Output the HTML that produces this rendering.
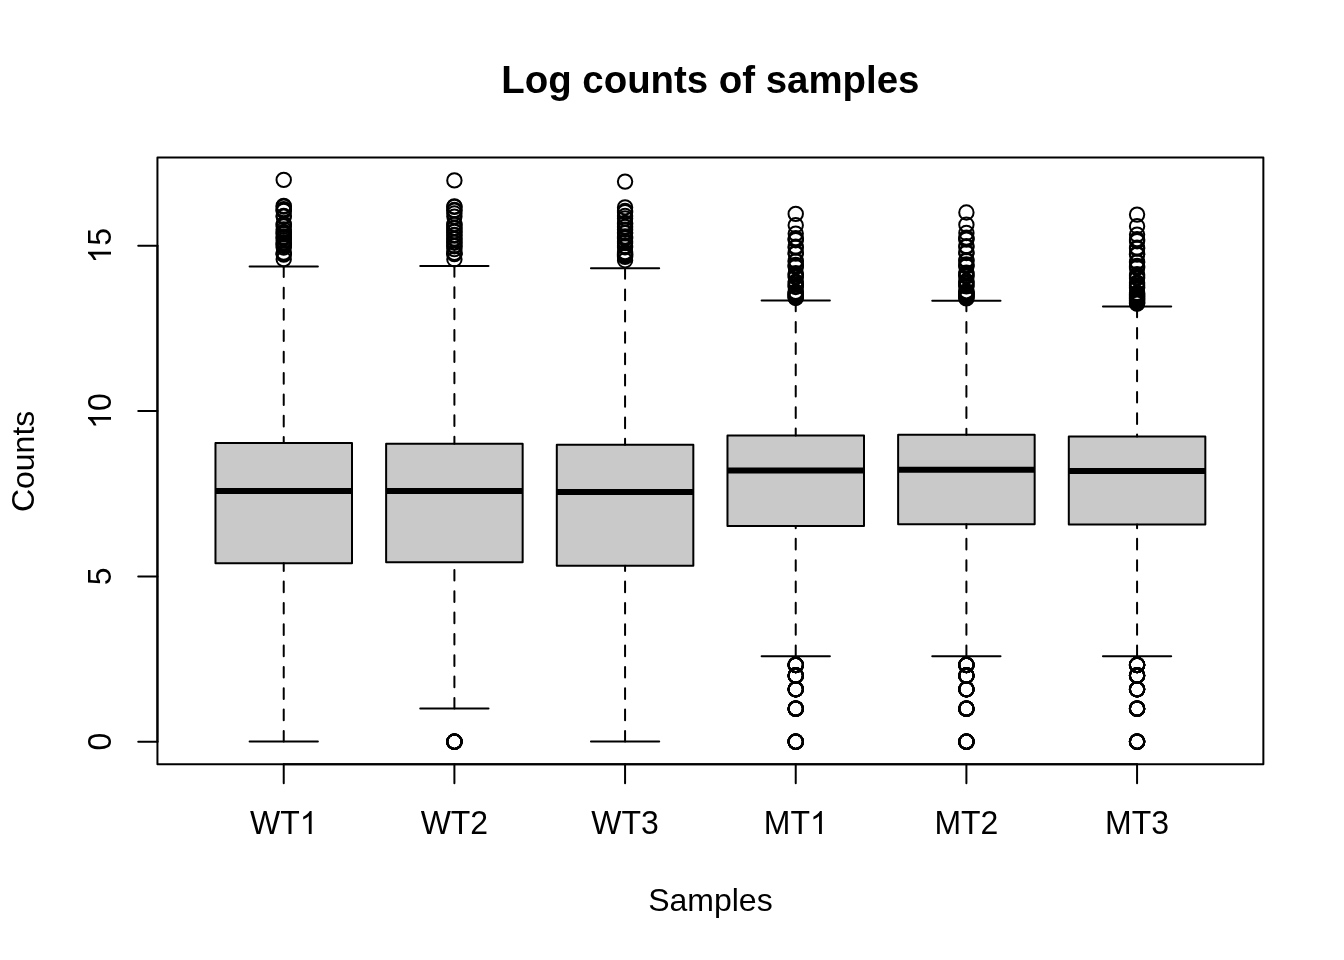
<!DOCTYPE html>
<html><head><meta charset="utf-8"><title>Log counts of samples</title>
<style>html,body{margin:0;padding:0;background:#fff;width:1344px;height:960px;overflow:hidden;}svg{display:block;will-change:transform;}text{font-family:"Liberation Sans",sans-serif;fill:#000;font-kerning:none;}</style>
</head><body>
<svg width="1344" height="960" viewBox="0 0 1344 960">
<rect x="0" y="0" width="1344" height="960" fill="#ffffff"/>
<g fill="none" stroke="#000" stroke-width="2" stroke-linecap="round" stroke-linejoin="round">
<rect x="215.47" y="443.00" width="136.53" height="120.35" fill="#c9c9c9" stroke="none"/>
<line x1="215.47" y1="490.90" x2="352.00" y2="490.90" stroke-width="6" stroke-linecap="butt"/>
<line x1="283.73" y1="741.60" x2="283.73" y2="563.35" stroke-dasharray="10.667 10.667"/>
<line x1="283.73" y1="266.40" x2="283.73" y2="443.00" stroke-dasharray="10.667 10.667"/>
<line x1="249.60" y1="741.60" x2="317.87" y2="741.60"/>
<line x1="249.60" y1="266.40" x2="317.87" y2="266.40"/>
<rect x="215.47" y="443.00" width="136.53" height="120.35"/>
<circle cx="283.73" cy="179.90" r="7.2"/>
<circle cx="283.73" cy="205.90" r="7.2"/>
<circle cx="283.73" cy="206.60" r="7.2"/>
<circle cx="283.73" cy="209.10" r="7.2"/>
<circle cx="283.73" cy="210.40" r="7.2"/>
<circle cx="283.73" cy="210.90" r="7.2"/>
<circle cx="283.73" cy="216.00" r="7.2"/>
<circle cx="283.73" cy="216.60" r="7.2"/>
<circle cx="283.73" cy="224.00" r="7.2"/>
<circle cx="283.73" cy="224.80" r="7.2"/>
<circle cx="283.73" cy="226.50" r="7.2"/>
<circle cx="283.73" cy="229.50" r="7.2"/>
<circle cx="283.73" cy="231.90" r="7.2"/>
<circle cx="283.73" cy="233.00" r="7.2"/>
<circle cx="283.73" cy="234.30" r="7.2"/>
<circle cx="283.73" cy="236.50" r="7.2"/>
<circle cx="283.73" cy="237.50" r="7.2"/>
<circle cx="283.73" cy="238.50" r="7.2"/>
<circle cx="283.73" cy="240.50" r="7.2"/>
<circle cx="283.73" cy="242.50" r="7.2"/>
<circle cx="283.73" cy="243.50" r="7.2"/>
<circle cx="283.73" cy="244.50" r="7.2"/>
<circle cx="283.73" cy="246.00" r="7.2"/>
<circle cx="283.73" cy="247.50" r="7.2"/>
<circle cx="283.73" cy="252.60" r="7.2"/>
<circle cx="283.73" cy="253.50" r="7.2"/>
<circle cx="283.73" cy="254.60" r="7.2"/>
<circle cx="283.73" cy="259.20" r="7.2"/>
<rect x="386.13" y="443.70" width="136.53" height="118.60" fill="#c9c9c9" stroke="none"/>
<line x1="386.13" y1="490.90" x2="522.67" y2="490.90" stroke-width="6" stroke-linecap="butt"/>
<line x1="454.40" y1="708.60" x2="454.40" y2="562.30" stroke-dasharray="10.667 10.667"/>
<line x1="454.40" y1="266.00" x2="454.40" y2="443.70" stroke-dasharray="10.667 10.667"/>
<line x1="420.27" y1="708.60" x2="488.53" y2="708.60"/>
<line x1="420.27" y1="266.00" x2="488.53" y2="266.00"/>
<rect x="386.13" y="443.70" width="136.53" height="118.60"/>
<circle cx="454.40" cy="180.40" r="7.2"/>
<circle cx="454.40" cy="206.40" r="7.2"/>
<circle cx="454.40" cy="206.90" r="7.2"/>
<circle cx="454.40" cy="210.00" r="7.2"/>
<circle cx="454.40" cy="210.60" r="7.2"/>
<circle cx="454.40" cy="213.50" r="7.2"/>
<circle cx="454.40" cy="216.60" r="7.2"/>
<circle cx="454.40" cy="224.10" r="7.2"/>
<circle cx="454.40" cy="224.70" r="7.2"/>
<circle cx="454.40" cy="227.70" r="7.2"/>
<circle cx="454.40" cy="228.30" r="7.2"/>
<circle cx="454.40" cy="231.30" r="7.2"/>
<circle cx="454.40" cy="231.90" r="7.2"/>
<circle cx="454.40" cy="234.90" r="7.2"/>
<circle cx="454.40" cy="235.50" r="7.2"/>
<circle cx="454.40" cy="238.50" r="7.2"/>
<circle cx="454.40" cy="239.10" r="7.2"/>
<circle cx="454.40" cy="242.10" r="7.2"/>
<circle cx="454.40" cy="242.70" r="7.2"/>
<circle cx="454.40" cy="245.70" r="7.2"/>
<circle cx="454.40" cy="246.30" r="7.2"/>
<circle cx="454.40" cy="249.10" r="7.2"/>
<circle cx="454.40" cy="252.90" r="7.2"/>
<circle cx="454.40" cy="253.50" r="7.2"/>
<circle cx="454.40" cy="254.10" r="7.2"/>
<circle cx="454.40" cy="259.30" r="7.2"/>
<circle cx="454.40" cy="741.69" r="7.2"/>
<circle cx="454.40" cy="741.69" r="7.2"/>
<circle cx="454.40" cy="741.69" r="7.2"/>
<circle cx="454.40" cy="741.69" r="7.2"/>
<circle cx="454.40" cy="741.69" r="7.2"/>
<circle cx="454.40" cy="741.69" r="7.2"/>
<circle cx="454.40" cy="741.69" r="7.2"/>
<circle cx="454.40" cy="741.69" r="7.2"/>
<rect x="556.80" y="444.80" width="136.53" height="121.05" fill="#c9c9c9" stroke="none"/>
<line x1="556.80" y1="492.00" x2="693.33" y2="492.00" stroke-width="6" stroke-linecap="butt"/>
<line x1="625.07" y1="741.60" x2="625.07" y2="565.85" stroke-dasharray="10.667 10.667"/>
<line x1="625.07" y1="268.20" x2="625.07" y2="444.80" stroke-dasharray="10.667 10.667"/>
<line x1="590.93" y1="741.60" x2="659.20" y2="741.60"/>
<line x1="590.93" y1="268.20" x2="659.20" y2="268.20"/>
<rect x="556.80" y="444.80" width="136.53" height="121.05"/>
<circle cx="625.07" cy="181.60" r="7.2"/>
<circle cx="625.07" cy="207.40" r="7.2"/>
<circle cx="625.07" cy="211.00" r="7.2"/>
<circle cx="625.07" cy="212.20" r="7.2"/>
<circle cx="625.07" cy="216.00" r="7.2"/>
<circle cx="625.07" cy="218.40" r="7.2"/>
<circle cx="625.07" cy="223.00" r="7.2"/>
<circle cx="625.07" cy="224.00" r="7.2"/>
<circle cx="625.07" cy="226.90" r="7.2"/>
<circle cx="625.07" cy="229.80" r="7.2"/>
<circle cx="625.07" cy="232.60" r="7.2"/>
<circle cx="625.07" cy="233.20" r="7.2"/>
<circle cx="625.07" cy="236.50" r="7.2"/>
<circle cx="625.07" cy="237.40" r="7.2"/>
<circle cx="625.07" cy="238.40" r="7.2"/>
<circle cx="625.07" cy="241.30" r="7.2"/>
<circle cx="625.07" cy="243.00" r="7.2"/>
<circle cx="625.07" cy="246.00" r="7.2"/>
<circle cx="625.07" cy="247.20" r="7.2"/>
<circle cx="625.07" cy="252.10" r="7.2"/>
<circle cx="625.07" cy="253.30" r="7.2"/>
<circle cx="625.07" cy="254.50" r="7.2"/>
<circle cx="625.07" cy="255.70" r="7.2"/>
<circle cx="625.07" cy="256.90" r="7.2"/>
<circle cx="625.07" cy="260.30" r="7.2"/>
<rect x="727.47" y="435.60" width="136.53" height="90.35" fill="#c9c9c9" stroke="none"/>
<line x1="727.47" y1="470.55" x2="864.00" y2="470.55" stroke-width="6" stroke-linecap="butt"/>
<line x1="795.73" y1="656.20" x2="795.73" y2="525.95" stroke-dasharray="10.667 10.667"/>
<line x1="795.73" y1="300.60" x2="795.73" y2="435.60" stroke-dasharray="10.667 10.667"/>
<line x1="761.60" y1="656.20" x2="829.87" y2="656.20"/>
<line x1="761.60" y1="300.60" x2="829.87" y2="300.60"/>
<rect x="727.47" y="435.60" width="136.53" height="90.35"/>
<circle cx="795.73" cy="213.90" r="7.2"/>
<circle cx="795.73" cy="225.30" r="7.2"/>
<circle cx="795.73" cy="233.60" r="7.2"/>
<circle cx="795.73" cy="238.20" r="7.2"/>
<circle cx="795.73" cy="239.30" r="7.2"/>
<circle cx="795.73" cy="240.20" r="7.2"/>
<circle cx="795.73" cy="246.70" r="7.2"/>
<circle cx="795.73" cy="247.60" r="7.2"/>
<circle cx="795.73" cy="252.80" r="7.2"/>
<circle cx="795.73" cy="253.60" r="7.2"/>
<circle cx="795.73" cy="260.70" r="7.2"/>
<circle cx="795.73" cy="261.50" r="7.2"/>
<circle cx="795.73" cy="265.00" r="7.2"/>
<circle cx="795.73" cy="266.00" r="7.2"/>
<circle cx="795.73" cy="267.00" r="7.2"/>
<circle cx="795.73" cy="273.20" r="7.2"/>
<circle cx="795.73" cy="274.50" r="7.2"/>
<circle cx="795.73" cy="276.00" r="7.2"/>
<circle cx="795.73" cy="277.30" r="7.2"/>
<circle cx="795.73" cy="281.60" r="7.2"/>
<circle cx="795.73" cy="283.00" r="7.2"/>
<circle cx="795.73" cy="284.50" r="7.2"/>
<circle cx="795.73" cy="286.00" r="7.2"/>
<circle cx="795.73" cy="287.00" r="7.2"/>
<circle cx="795.73" cy="291.80" r="7.2"/>
<circle cx="795.73" cy="292.50" r="7.2"/>
<circle cx="795.73" cy="293.20" r="7.2"/>
<circle cx="795.73" cy="293.90" r="7.2"/>
<circle cx="795.73" cy="294.60" r="7.2"/>
<circle cx="795.73" cy="295.30" r="7.2"/>
<circle cx="795.73" cy="296.00" r="7.2"/>
<circle cx="795.73" cy="296.70" r="7.2"/>
<circle cx="795.73" cy="297.40" r="7.2"/>
<circle cx="795.73" cy="298.00" r="7.2"/>
<circle cx="795.73" cy="741.69" r="7.2"/>
<circle cx="795.73" cy="741.69" r="7.2"/>
<circle cx="795.73" cy="741.69" r="7.2"/>
<circle cx="795.73" cy="741.69" r="7.2"/>
<circle cx="795.73" cy="741.69" r="7.2"/>
<circle cx="795.73" cy="741.69" r="7.2"/>
<circle cx="795.73" cy="741.69" r="7.2"/>
<circle cx="795.73" cy="741.69" r="7.2"/>
<circle cx="795.73" cy="708.63" r="7.2"/>
<circle cx="795.73" cy="708.63" r="7.2"/>
<circle cx="795.73" cy="708.63" r="7.2"/>
<circle cx="795.73" cy="708.63" r="7.2"/>
<circle cx="795.73" cy="708.63" r="7.2"/>
<circle cx="795.73" cy="708.63" r="7.2"/>
<circle cx="795.73" cy="708.63" r="7.2"/>
<circle cx="795.73" cy="708.63" r="7.2"/>
<circle cx="795.73" cy="689.29" r="7.2"/>
<circle cx="795.73" cy="689.29" r="7.2"/>
<circle cx="795.73" cy="689.29" r="7.2"/>
<circle cx="795.73" cy="689.29" r="7.2"/>
<circle cx="795.73" cy="689.29" r="7.2"/>
<circle cx="795.73" cy="689.29" r="7.2"/>
<circle cx="795.73" cy="689.29" r="7.2"/>
<circle cx="795.73" cy="689.29" r="7.2"/>
<circle cx="795.73" cy="675.57" r="7.2"/>
<circle cx="795.73" cy="675.57" r="7.2"/>
<circle cx="795.73" cy="675.57" r="7.2"/>
<circle cx="795.73" cy="675.57" r="7.2"/>
<circle cx="795.73" cy="675.57" r="7.2"/>
<circle cx="795.73" cy="675.57" r="7.2"/>
<circle cx="795.73" cy="675.57" r="7.2"/>
<circle cx="795.73" cy="675.57" r="7.2"/>
<circle cx="795.73" cy="664.93" r="7.2"/>
<circle cx="795.73" cy="664.93" r="7.2"/>
<circle cx="795.73" cy="664.93" r="7.2"/>
<circle cx="795.73" cy="664.93" r="7.2"/>
<circle cx="795.73" cy="664.93" r="7.2"/>
<circle cx="795.73" cy="664.93" r="7.2"/>
<circle cx="795.73" cy="664.93" r="7.2"/>
<circle cx="795.73" cy="664.93" r="7.2"/>
<rect x="898.13" y="434.75" width="136.53" height="89.55" fill="#c9c9c9" stroke="none"/>
<line x1="898.13" y1="469.70" x2="1034.67" y2="469.70" stroke-width="6" stroke-linecap="butt"/>
<line x1="966.40" y1="656.20" x2="966.40" y2="524.30" stroke-dasharray="10.667 10.667"/>
<line x1="966.40" y1="300.65" x2="966.40" y2="434.75" stroke-dasharray="10.667 10.667"/>
<line x1="932.27" y1="656.20" x2="1000.53" y2="656.20"/>
<line x1="932.27" y1="300.65" x2="1000.53" y2="300.65"/>
<rect x="898.13" y="434.75" width="136.53" height="89.55"/>
<circle cx="966.40" cy="212.50" r="7.2"/>
<circle cx="966.40" cy="224.70" r="7.2"/>
<circle cx="966.40" cy="233.00" r="7.2"/>
<circle cx="966.40" cy="237.60" r="7.2"/>
<circle cx="966.40" cy="238.70" r="7.2"/>
<circle cx="966.40" cy="239.60" r="7.2"/>
<circle cx="966.40" cy="246.10" r="7.2"/>
<circle cx="966.40" cy="247.00" r="7.2"/>
<circle cx="966.40" cy="252.20" r="7.2"/>
<circle cx="966.40" cy="253.00" r="7.2"/>
<circle cx="966.40" cy="260.10" r="7.2"/>
<circle cx="966.40" cy="260.90" r="7.2"/>
<circle cx="966.40" cy="264.40" r="7.2"/>
<circle cx="966.40" cy="265.40" r="7.2"/>
<circle cx="966.40" cy="266.40" r="7.2"/>
<circle cx="966.40" cy="272.60" r="7.2"/>
<circle cx="966.40" cy="273.90" r="7.2"/>
<circle cx="966.40" cy="275.40" r="7.2"/>
<circle cx="966.40" cy="276.70" r="7.2"/>
<circle cx="966.40" cy="281.00" r="7.2"/>
<circle cx="966.40" cy="282.40" r="7.2"/>
<circle cx="966.40" cy="283.90" r="7.2"/>
<circle cx="966.40" cy="285.40" r="7.2"/>
<circle cx="966.40" cy="286.40" r="7.2"/>
<circle cx="966.40" cy="291.20" r="7.2"/>
<circle cx="966.40" cy="291.90" r="7.2"/>
<circle cx="966.40" cy="292.60" r="7.2"/>
<circle cx="966.40" cy="293.30" r="7.2"/>
<circle cx="966.40" cy="294.00" r="7.2"/>
<circle cx="966.40" cy="294.70" r="7.2"/>
<circle cx="966.40" cy="295.40" r="7.2"/>
<circle cx="966.40" cy="296.10" r="7.2"/>
<circle cx="966.40" cy="296.80" r="7.2"/>
<circle cx="966.40" cy="297.40" r="7.2"/>
<circle cx="966.40" cy="298.40" r="7.2"/>
<circle cx="966.40" cy="741.69" r="7.2"/>
<circle cx="966.40" cy="741.69" r="7.2"/>
<circle cx="966.40" cy="741.69" r="7.2"/>
<circle cx="966.40" cy="741.69" r="7.2"/>
<circle cx="966.40" cy="741.69" r="7.2"/>
<circle cx="966.40" cy="741.69" r="7.2"/>
<circle cx="966.40" cy="741.69" r="7.2"/>
<circle cx="966.40" cy="741.69" r="7.2"/>
<circle cx="966.40" cy="708.63" r="7.2"/>
<circle cx="966.40" cy="708.63" r="7.2"/>
<circle cx="966.40" cy="708.63" r="7.2"/>
<circle cx="966.40" cy="708.63" r="7.2"/>
<circle cx="966.40" cy="708.63" r="7.2"/>
<circle cx="966.40" cy="708.63" r="7.2"/>
<circle cx="966.40" cy="708.63" r="7.2"/>
<circle cx="966.40" cy="708.63" r="7.2"/>
<circle cx="966.40" cy="689.29" r="7.2"/>
<circle cx="966.40" cy="689.29" r="7.2"/>
<circle cx="966.40" cy="689.29" r="7.2"/>
<circle cx="966.40" cy="689.29" r="7.2"/>
<circle cx="966.40" cy="689.29" r="7.2"/>
<circle cx="966.40" cy="689.29" r="7.2"/>
<circle cx="966.40" cy="689.29" r="7.2"/>
<circle cx="966.40" cy="689.29" r="7.2"/>
<circle cx="966.40" cy="675.57" r="7.2"/>
<circle cx="966.40" cy="675.57" r="7.2"/>
<circle cx="966.40" cy="675.57" r="7.2"/>
<circle cx="966.40" cy="675.57" r="7.2"/>
<circle cx="966.40" cy="675.57" r="7.2"/>
<circle cx="966.40" cy="675.57" r="7.2"/>
<circle cx="966.40" cy="675.57" r="7.2"/>
<circle cx="966.40" cy="675.57" r="7.2"/>
<circle cx="966.40" cy="664.93" r="7.2"/>
<circle cx="966.40" cy="664.93" r="7.2"/>
<circle cx="966.40" cy="664.93" r="7.2"/>
<circle cx="966.40" cy="664.93" r="7.2"/>
<circle cx="966.40" cy="664.93" r="7.2"/>
<circle cx="966.40" cy="664.93" r="7.2"/>
<circle cx="966.40" cy="664.93" r="7.2"/>
<circle cx="966.40" cy="664.93" r="7.2"/>
<rect x="1068.80" y="436.50" width="136.53" height="87.90" fill="#c9c9c9" stroke="none"/>
<line x1="1068.80" y1="471.10" x2="1205.33" y2="471.10" stroke-width="6" stroke-linecap="butt"/>
<line x1="1137.07" y1="656.20" x2="1137.07" y2="524.40" stroke-dasharray="10.667 10.667"/>
<line x1="1137.07" y1="306.60" x2="1137.07" y2="436.50" stroke-dasharray="10.667 10.667"/>
<line x1="1102.93" y1="656.20" x2="1171.20" y2="656.20"/>
<line x1="1102.93" y1="306.60" x2="1171.20" y2="306.60"/>
<rect x="1068.80" y="436.50" width="136.53" height="87.90"/>
<circle cx="1137.07" cy="214.60" r="7.2"/>
<circle cx="1137.07" cy="226.30" r="7.2"/>
<circle cx="1137.07" cy="234.60" r="7.2"/>
<circle cx="1137.07" cy="239.20" r="7.2"/>
<circle cx="1137.07" cy="240.30" r="7.2"/>
<circle cx="1137.07" cy="241.20" r="7.2"/>
<circle cx="1137.07" cy="247.70" r="7.2"/>
<circle cx="1137.07" cy="248.60" r="7.2"/>
<circle cx="1137.07" cy="253.80" r="7.2"/>
<circle cx="1137.07" cy="254.60" r="7.2"/>
<circle cx="1137.07" cy="261.70" r="7.2"/>
<circle cx="1137.07" cy="262.50" r="7.2"/>
<circle cx="1137.07" cy="266.00" r="7.2"/>
<circle cx="1137.07" cy="267.00" r="7.2"/>
<circle cx="1137.07" cy="268.00" r="7.2"/>
<circle cx="1137.07" cy="274.20" r="7.2"/>
<circle cx="1137.07" cy="275.50" r="7.2"/>
<circle cx="1137.07" cy="277.00" r="7.2"/>
<circle cx="1137.07" cy="278.30" r="7.2"/>
<circle cx="1137.07" cy="282.60" r="7.2"/>
<circle cx="1137.07" cy="284.00" r="7.2"/>
<circle cx="1137.07" cy="285.50" r="7.2"/>
<circle cx="1137.07" cy="287.00" r="7.2"/>
<circle cx="1137.07" cy="288.00" r="7.2"/>
<circle cx="1137.07" cy="292.80" r="7.2"/>
<circle cx="1137.07" cy="293.50" r="7.2"/>
<circle cx="1137.07" cy="294.20" r="7.2"/>
<circle cx="1137.07" cy="294.90" r="7.2"/>
<circle cx="1137.07" cy="295.60" r="7.2"/>
<circle cx="1137.07" cy="296.30" r="7.2"/>
<circle cx="1137.07" cy="297.00" r="7.2"/>
<circle cx="1137.07" cy="297.70" r="7.2"/>
<circle cx="1137.07" cy="298.40" r="7.2"/>
<circle cx="1137.07" cy="299.00" r="7.2"/>
<circle cx="1137.07" cy="300.00" r="7.2"/>
<circle cx="1137.07" cy="300.80" r="7.2"/>
<circle cx="1137.07" cy="301.60" r="7.2"/>
<circle cx="1137.07" cy="302.40" r="7.2"/>
<circle cx="1137.07" cy="303.10" r="7.2"/>
<circle cx="1137.07" cy="303.70" r="7.2"/>
<circle cx="1137.07" cy="741.69" r="7.2"/>
<circle cx="1137.07" cy="741.69" r="7.2"/>
<circle cx="1137.07" cy="741.69" r="7.2"/>
<circle cx="1137.07" cy="741.69" r="7.2"/>
<circle cx="1137.07" cy="741.69" r="7.2"/>
<circle cx="1137.07" cy="741.69" r="7.2"/>
<circle cx="1137.07" cy="741.69" r="7.2"/>
<circle cx="1137.07" cy="741.69" r="7.2"/>
<circle cx="1137.07" cy="708.63" r="7.2"/>
<circle cx="1137.07" cy="708.63" r="7.2"/>
<circle cx="1137.07" cy="708.63" r="7.2"/>
<circle cx="1137.07" cy="708.63" r="7.2"/>
<circle cx="1137.07" cy="708.63" r="7.2"/>
<circle cx="1137.07" cy="708.63" r="7.2"/>
<circle cx="1137.07" cy="708.63" r="7.2"/>
<circle cx="1137.07" cy="708.63" r="7.2"/>
<circle cx="1137.07" cy="689.29" r="7.2"/>
<circle cx="1137.07" cy="689.29" r="7.2"/>
<circle cx="1137.07" cy="689.29" r="7.2"/>
<circle cx="1137.07" cy="689.29" r="7.2"/>
<circle cx="1137.07" cy="689.29" r="7.2"/>
<circle cx="1137.07" cy="689.29" r="7.2"/>
<circle cx="1137.07" cy="689.29" r="7.2"/>
<circle cx="1137.07" cy="689.29" r="7.2"/>
<circle cx="1137.07" cy="675.57" r="7.2"/>
<circle cx="1137.07" cy="675.57" r="7.2"/>
<circle cx="1137.07" cy="675.57" r="7.2"/>
<circle cx="1137.07" cy="675.57" r="7.2"/>
<circle cx="1137.07" cy="675.57" r="7.2"/>
<circle cx="1137.07" cy="675.57" r="7.2"/>
<circle cx="1137.07" cy="675.57" r="7.2"/>
<circle cx="1137.07" cy="675.57" r="7.2"/>
<circle cx="1137.07" cy="664.93" r="7.2"/>
<circle cx="1137.07" cy="664.93" r="7.2"/>
<circle cx="1137.07" cy="664.93" r="7.2"/>
<circle cx="1137.07" cy="664.93" r="7.2"/>
<circle cx="1137.07" cy="664.93" r="7.2"/>
<circle cx="1137.07" cy="664.93" r="7.2"/>
<circle cx="1137.07" cy="664.93" r="7.2"/>
<circle cx="1137.07" cy="664.93" r="7.2"/>
<line x1="283.73" y1="764.16" x2="1137.07" y2="764.16"/>
<line x1="283.73" y1="764.16" x2="283.73" y2="783.36"/>
<line x1="454.40" y1="764.16" x2="454.40" y2="783.36"/>
<line x1="625.07" y1="764.16" x2="625.07" y2="783.36"/>
<line x1="795.73" y1="764.16" x2="795.73" y2="783.36"/>
<line x1="966.40" y1="764.16" x2="966.40" y2="783.36"/>
<line x1="1137.07" y1="764.16" x2="1137.07" y2="783.36"/>
<line x1="157.44" y1="741.69" x2="157.44" y2="245.79"/>
<line x1="157.44" y1="741.69" x2="138.24" y2="741.69"/>
<line x1="157.44" y1="576.39" x2="138.24" y2="576.39"/>
<line x1="157.44" y1="411.09" x2="138.24" y2="411.09"/>
<line x1="157.44" y1="245.79" x2="138.24" y2="245.79"/>
<rect x="157.44" y="157.44" width="1105.92" height="606.72"/>
</g>
<text x="710.4" y="93" font-size="38.4" font-weight="bold" text-anchor="middle">Log counts of samples</text>
<text x="710.4" y="911" font-size="32" text-anchor="middle">Samples</text>
<text transform="translate(34.3,461.4) rotate(-90)" font-size="32" text-anchor="middle">Counts</text>
<g transform="translate(283.73,834)"><text x="-33.773" y="0" font-size="32" transform="scale(1,1.045)">WT</text><path transform="translate(15.977,0) scale(0.015625,-0.015625)" d="M763 0L583 0L583 1147Q518 1085 412.5 1023Q307 961 223 930L223 1104Q374 1175 487 1276Q600 1377 647 1472L763 1472Z" fill="#000"/></g>
<g transform="translate(454.40,834)"><text x="-33.773" y="0" font-size="32" transform="scale(1,1.045)">WT2</text></g>
<g transform="translate(625.07,834)"><text x="-33.773" y="0" font-size="32" transform="scale(1,1.045)">WT3</text></g>
<g transform="translate(795.73,834)"><text x="-32.000" y="0" font-size="32" transform="scale(1,1.045)">MT</text><path transform="translate(14.203,0) scale(0.015625,-0.015625)" d="M763 0L583 0L583 1147Q518 1085 412.5 1023Q307 961 223 930L223 1104Q374 1175 487 1276Q600 1377 647 1472L763 1472Z" fill="#000"/></g>
<g transform="translate(966.40,834)"><text x="-32.000" y="0" font-size="32" transform="scale(1,1.045)">MT2</text></g>
<g transform="translate(1137.07,834)"><text x="-32.000" y="0" font-size="32" transform="scale(1,1.045)">MT3</text></g>
<g transform="translate(111,741.69) rotate(-90)"><text x="-8.898" y="0" font-size="32" transform="scale(1,1.045)">0</text></g>
<g transform="translate(111,576.39) rotate(-90)"><text x="-8.898" y="0" font-size="32" transform="scale(1,1.045)">5</text></g>
<g transform="translate(111,411.09) rotate(-90)"><path transform="translate(-17.797,0) scale(0.015625,-0.015625)" d="M763 0L583 0L583 1147Q518 1085 412.5 1023Q307 961 223 930L223 1104Q374 1175 487 1276Q600 1377 647 1472L763 1472Z" fill="#000"/><text x="0.000" y="0" font-size="32" transform="scale(1,1.045)">0</text></g>
<g transform="translate(111,245.79) rotate(-90)"><path transform="translate(-17.797,0) scale(0.015625,-0.015625)" d="M763 0L583 0L583 1147Q518 1085 412.5 1023Q307 961 223 930L223 1104Q374 1175 487 1276Q600 1377 647 1472L763 1472Z" fill="#000"/><text x="0.000" y="0" font-size="32" transform="scale(1,1.045)">5</text></g>
</svg>
</body></html>
